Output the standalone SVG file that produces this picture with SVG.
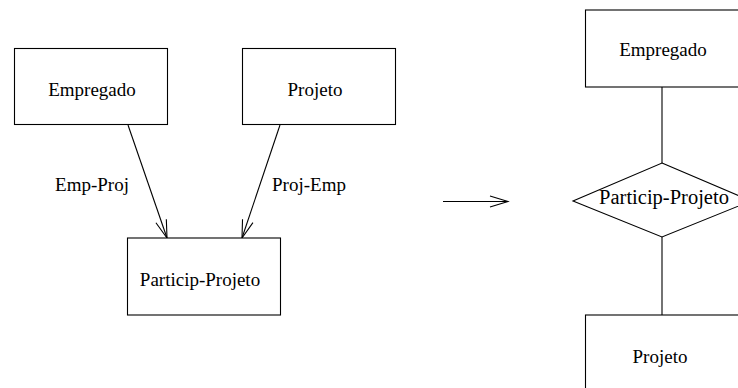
<svg xmlns="http://www.w3.org/2000/svg" width="738" height="388" viewBox="0 0 738 388">
<defs>
<style>
.box{fill:#fff;stroke:#000;stroke-width:1.1}
.ln{fill:none;stroke:#000;stroke-width:1.1}
.t{font-family:"Liberation Serif","Times New Roman",serif;font-size:19px;fill:#000;text-anchor:middle}
</style>
<marker id="open" markerUnits="userSpaceOnUse" markerWidth="30" markerHeight="20" refX="0" refY="0" viewBox="-20 -10 30 20" orient="auto" overflow="visible">
<path d="M-18,-5.5 L0,0 L-18,5.5" fill="none" stroke="#000" stroke-width="1.1"/>
</marker>
</defs>
<rect width="738" height="388" fill="#fff"/>
<g id="connectors">
<line class="ln" x1="128" y1="125" x2="167" y2="238" marker-end="url(#open)"/>
<line class="ln" x1="280" y1="125" x2="242" y2="238" marker-end="url(#open)"/>
<text class="t" x="92" y="191">Emp-Proj</text>
<text class="t" x="309" y="191">Proj-Emp</text>
<line class="ln" x1="443" y1="201.5" x2="508" y2="201.5" marker-end="url(#open)"/>
<line class="ln" x1="662" y1="87" x2="662" y2="163"/>
<line class="ln" x1="662" y1="237" x2="662" y2="315"/>
</g>
<g id="empregado-left">
<rect class="box" x="14.5" y="48.5" width="153" height="76"/>
<text class="t" x="92" y="96">Empregado</text>
</g>
<g id="projeto-left">
<rect class="box" x="242.5" y="48.5" width="153" height="76"/>
<text class="t" x="315" y="96">Projeto</text>
</g>
<g id="particip-left">
<rect class="box" x="127.5" y="238" width="153" height="77"/>
<text class="t" x="200" y="286">Particip-Projeto</text>
</g>
<g id="empregado-right">
<rect class="box" x="585.5" y="10" width="160" height="77"/>
<text class="t" x="663" y="56">Empregado</text>
</g>
<g id="particip-right">
<polygon class="box" points="662,163 751,201 662,237 573,201"/>
<text class="t" x="664" y="204" style="font-size:20.5px">Particip-Projeto</text>
</g>
<g id="projeto-right">
<rect class="box" x="585.5" y="315" width="160" height="80"/>
<text class="t" x="660" y="363">Projeto</text>
</g>
</svg>
